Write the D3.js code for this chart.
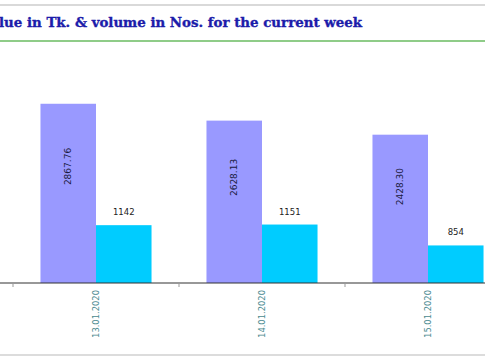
<!DOCTYPE html>
<html><head><meta charset="utf-8">
<script src="https://cdn.jsdelivr.net/npm/d3@7"></script>
<style>html,body{margin:0;padding:0;background:#fff;overflow:hidden}</style>
</head><body>
<script>
const titleText = "lue in Tk. & volume in Nos. for the current week";
const categories = ["13.01.2020", "14.01.2020", "15.01.2020"];
const seriesNames = ["value", "volume"];
const valueTk = [2867.76, 2628.13, 2428.30];
const volumeNos = [1142, 1151, 854];
const valueLabels = ["2867.76", "2628.13", "2428.30"];
const volumeLabels = ["1142", "1151", "854"];

const W = 485, H = 360;
const svg = d3.select("body").append("svg").attr("width", W).attr("height", H);

// frame lines
svg.append("line").attr("x1", 0).attr("x2", W).attr("y1", 5).attr("y2", 5)
  .attr("stroke", "#cccccc").attr("stroke-width", 1.5);
svg.append("line").attr("x1", 0).attr("x2", W).attr("y1", 41).attr("y2", 41)
  .attr("stroke", "#8fcc88").attr("stroke-width", 2);
svg.append("line").attr("x1", 0).attr("x2", W).attr("y1", 355).attr("y2", 355)
  .attr("stroke", "#d0d0d0").attr("stroke-width", 1.5);

svg.append("text").attr("x", -1).attr("y", 27)
  .attr("font-family", "DejaVu Serif").attr("font-weight", "bold").attr("font-size", 12.8)
  .attr("fill", "#1c1caa").attr("stroke", "#1c1caa").attr("stroke-width", 0.35)
  .attr("textLength", 363).attr("lengthAdjust", "spacingAndGlyphs")
  .text(titleText);

const x0 = d3.scaleBand().domain(categories).range([13, 13 + 166 * categories.length])
  .paddingInner(0.331).paddingOuter(0.1655);
const x1 = d3.scaleBand().domain(seriesNames).range([0, x0.bandwidth()]);
const y = d3.scaleLinear().domain([320, 3760]).range([283, 41]);

const colors = {value: "#9999ff", volume: "#00ccff"};

const data = categories.map((c, i) => ({
  cat: c,
  vals: [
    {key: "value", v: valueTk[i], label: valueLabels[i]},
    {key: "volume", v: volumeNos[i], label: volumeLabels[i]}
  ]
}));

const g = svg.append("g");
const groups = g.selectAll("g.cat").data(data).join("g")
  .attr("transform", d => `translate(${x0(d.cat)},0)`);

groups.selectAll("rect").data(d => d.vals).join("rect")
  .attr("x", d => x1(d.key)).attr("width", x1.bandwidth())
  .attr("y", d => y(d.v)).attr("height", d => y.range()[0] - y(d.v))
  .attr("fill", d => colors[d.key]);

// value labels rotated inside purple bars
groups.selectAll("text.vl").data(d => d.vals.filter(v => v.key === "value")).join("text")
  .attr("class", "vl")
  .attr("transform", d => {
    const cx = x1(d.key) + x1.bandwidth() / 2;
    const top = y(d.v), h = y.range()[0] - top;
    const cy = top + h * 0.35;
    return `translate(${cx + 3},${cy}) rotate(-90)`;
  })
  .attr("text-anchor", "middle")
  .attr("font-family", "DejaVu Sans").attr("font-size", 9)
  .attr("fill", "#1a1a40").text(d => d.label);

// volume labels above cyan bars
groups.selectAll("text.vo").data(d => d.vals.filter(v => v.key === "volume")).join("text")
  .attr("class", "vo")
  .attr("x", d => x1(d.key) + x1.bandwidth() / 2)
  .attr("y", d => y(d.v) - 10)
  .attr("text-anchor", "middle")
  .attr("font-family", "DejaVu Sans").attr("font-size", 8.5)
  .attr("fill", "#222").text(d => d.label);

// x axis
const axisY = y.range()[0];
svg.append("line").attr("x1", 0).attr("x2", W).attr("y1", axisY).attr("y2", axisY)
  .attr("stroke", "#333").attr("stroke-width", 1.2);
const tickPos = categories.map(c => x0(c) - x0.step() * x0.paddingOuter());
svg.selectAll("line.tick").data(tickPos).join("line")
  .attr("x1", d => d).attr("x2", d => d).attr("y1", axisY).attr("y2", axisY + 4)
  .attr("stroke", "#999");
svg.selectAll("text.xl").data(categories).join("text")
  .attr("transform", d => `translate(${x0(d) + x0.bandwidth() / 2 + 3},${axisY + 7}) rotate(-90)`)
  .attr("text-anchor", "end")
  .attr("font-family", "DejaVu Sans").attr("font-size", 8.4)
  .attr("fill", "#4a8a90").text(d => d);
</script>
</body></html>
